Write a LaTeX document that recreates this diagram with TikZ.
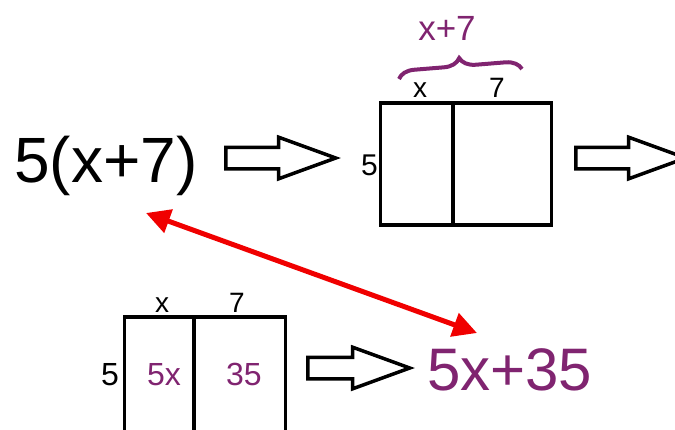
\documentclass[tikz,border=0pt]{standalone}
\usepackage{fontspec}
\setmainfont{Liberation Sans}
\usetikzlibrary{
  arrows.meta,
  positioning,
  shapes.arrows,
  decorations.pathreplacing
}
\definecolor{mathpurple}{RGB}{128,36,112}
\definecolor{linkred}{RGB}{240,0,0}

\begin{document}
\begin{tikzpicture}[
  x=1pt, y=-1pt,
  every node/.style={inner sep=0pt},
  big/.style={font=\fontsize{64}{64}\selectfont, anchor=base west},
  lbl/.style={font=\fontsize{28}{28}\selectfont, anchor=base},
  side/.style={font=\fontsize{32}{32}\selectfont, anchor=base west},
  cell/.style={draw, line width=3.5pt},
  fatarrow/.style={draw, line width=3.5pt, single arrow, inner xsep=0pt,
                   inner ysep=9pt, single arrow head extend=10pt,
                   single arrow tip angle=40, anchor=west},
]
\useasboundingbox (0,0) rectangle (675,429);
\clip (0,0) rectangle (675,429);

% top row
\node[big] (expr) at (14,182) {5(x+7)};
\node[fatarrow, minimum height=110pt] (arrA) at (224,158) {};

\node[cell, minimum width=171pt, minimum height=122pt] (topbox) at (466,164) {};
\draw[cell] (topbox.north) ++(-13,0) coordinate (tdiv) -- (tdiv |- topbox.south);
\node[lbl] (tx) at (420,97) {x};
\node[lbl] (t7) at (497,97) {7};
\node[side, font=\fontsize{30}{30}\selectfont, anchor=base east] (t5) at (378,175) {5};
\draw[mathpurple, line width=4pt, decorate,
      decoration={brace, amplitude=16pt}] (399,79) -- (522,69);
\node[lbl, font=\fontsize{35}{35}\selectfont, text=mathpurple] (tsum) at (447,40) {x+7};

\node[fatarrow, minimum height=110pt] (arrB) at (574,158) {};

% bottom row
\node[cell, minimum width=161pt, minimum height=140pt] (botbox) at (205,387) {};
\draw[cell] (botbox.north) ++(-11,0) coordinate (bdiv) -- (bdiv |- botbox.south);
\node[lbl] (bx) at (162,312) {x};
\node[lbl] (b7) at (237,312) {7};
\node[side, anchor=base east] (b5) at (119,385) {5};
\node[side, text=mathpurple] (b5x) at (147,385) {5x};
\node[side, text=mathpurple] (b35) at (226,385) {35};

\node[fatarrow, minimum height=102pt] (arrC) at (306,368) {};
\node[big, font=\fontsize{60}{60}\selectfont, text=mathpurple] (result) at (427,390) {5x+35};

% link between the two forms
\coordinate (linkA) at (146,213);
\coordinate (linkB) at (477,333);
\draw[linkred, line width=5pt,
      {Triangle[length=24pt, width=24pt]}-{Triangle[length=24pt, width=24pt]}]
  (linkA) -- (linkB);

\end{tikzpicture}
\end{document}
